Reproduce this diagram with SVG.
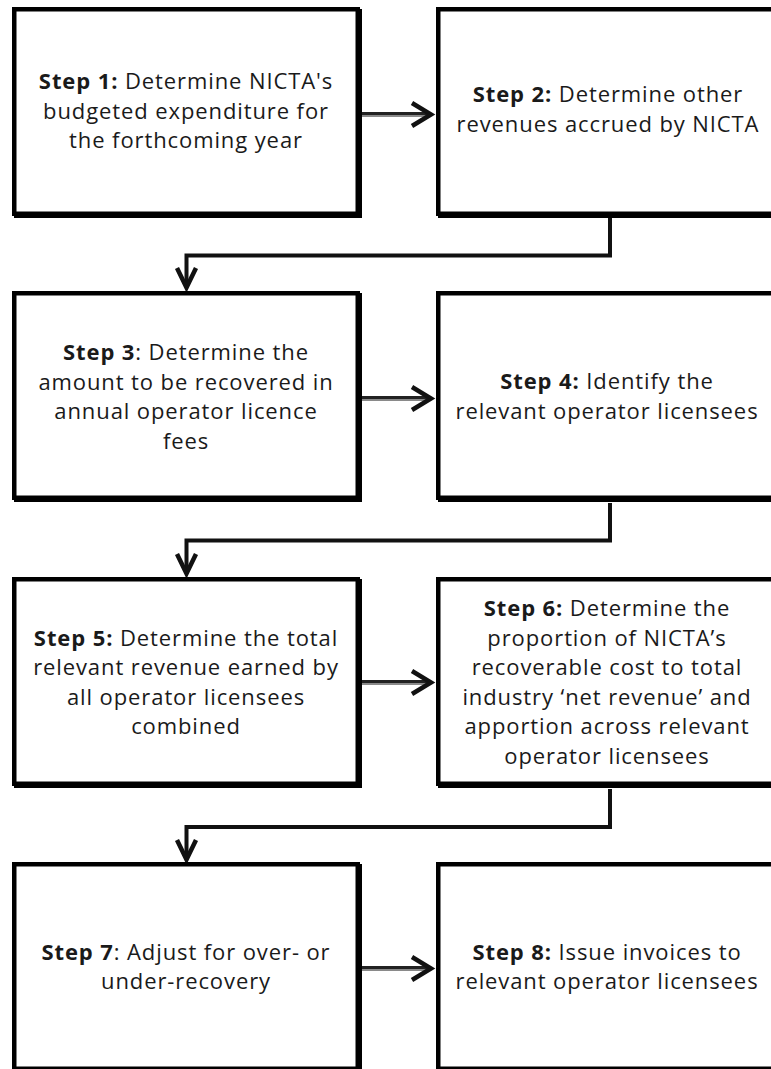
<svg xmlns="http://www.w3.org/2000/svg" width="771" height="1069" viewBox="0 0 771 1069">
<style>
.bg{fill:#fff}
.sh{fill:none;stroke:#000;stroke-width:4.5}
.bx{fill:#fff;stroke:#000;stroke-width:4.5}
.t{font-family:"Open Sans","Liberation Sans",sans-serif;font-size:22px;letter-spacing:0.9px;fill:#1a1a1a;text-anchor:middle}
.b{font-weight:bold}
.ln{fill:none;stroke:#111;stroke-width:4}
.ad{fill:none;stroke:#222;stroke-width:3}
.ag{fill:none;stroke:#8a8a8a;stroke-width:2}
.ah{fill:none;stroke:#111;stroke-width:4.5;stroke-linejoin:miter;stroke-linecap:butt}
</style>
<rect class="bg" x="0" y="0" width="771" height="1069"/>

<g id="connectors">
  <line class="ad" x1="362" y1="113.5" x2="430" y2="113.5"/>
  <line class="ag" x1="362" y1="116" x2="428" y2="116"/>
  <polyline class="ah" points="412,103 431,114.5 412,126"/>

  <line class="ad" x1="362" y1="397.5" x2="430" y2="397.5"/>
  <line class="ag" x1="362" y1="400" x2="428" y2="400"/>
  <polyline class="ah" points="412,387 431,398.5 412,410"/>

  <line class="ad" x1="362" y1="681.5" x2="430" y2="681.5"/>
  <line class="ag" x1="362" y1="684" x2="428" y2="684"/>
  <polyline class="ah" points="412,671 431,682.5 412,694"/>

  <line class="ad" x1="362" y1="967.5" x2="430" y2="967.5"/>
  <line class="ag" x1="362" y1="970" x2="428" y2="970"/>
  <polyline class="ah" points="412,957 431,968.5 412,980"/>

  <polyline class="ln" points="610,218 610,255.5 186.5,255.5 186.5,287"/>
  <polyline class="ah" points="177,268 186.5,287.5 196,268"/>

  <polyline class="ln" points="610,503 610,540.5 186.5,540.5 186.5,573"/>
  <polyline class="ah" points="177,554 186.5,573.5 196,554"/>

  <polyline class="ln" points="610,789 610,827 186.5,827 186.5,859"/>
  <polyline class="ah" points="177,840 186.5,859.5 196,840"/>
</g>

<g id="step1">
  <rect class="sh" x="16.25" y="11.25" width="343.5" height="204.5"/>
  <rect class="bx" x="14.25" y="9.25" width="343.5" height="204.5"/>
  <text class="t" x="186" y="89"><tspan class="b">Step 1:</tspan> Determine NICTA's</text>
  <text class="t" x="186" y="118.5">budgeted expenditure for</text>
  <text class="t" x="186" y="148">the forthcoming year</text>
</g>

<g id="step2">
  <rect class="sh" x="440.25" y="11.25" width="340" height="204.5"/>
  <rect class="bx" x="438.25" y="9.25" width="340" height="204.5"/>
  <text class="t" x="608" y="102"><tspan class="b">Step 2:</tspan> Determine other</text>
  <text class="t" x="608" y="131.5">revenues accrued by NICTA</text>
</g>

<g id="step3">
  <rect class="sh" x="16.25" y="295.25" width="343.5" height="204.5"/>
  <rect class="bx" x="14.25" y="293.25" width="343.5" height="204.5"/>
  <text class="t" x="186" y="360"><tspan class="b">Step 3</tspan>: Determine the</text>
  <text class="t" x="186" y="389.5">amount to be recovered in</text>
  <text class="t" x="186" y="419">annual operator licence</text>
  <text class="t" x="186" y="448.5">fees</text>
</g>

<g id="step4">
  <rect class="sh" x="440.25" y="295.25" width="340" height="204.5"/>
  <rect class="bx" x="438.25" y="293.25" width="340" height="204.5"/>
  <text class="t" x="607" y="389"><tspan class="b">Step 4:</tspan> Identify the</text>
  <text class="t" x="607" y="418.5">relevant operator licensees</text>
</g>

<g id="step5">
  <rect class="sh" x="16.25" y="581.25" width="343.5" height="204.5"/>
  <rect class="bx" x="14.25" y="579.25" width="343.5" height="204.5"/>
  <text class="t" x="186" y="645.5"><tspan class="b">Step 5:</tspan> Determine the total</text>
  <text class="t" x="186" y="675">relevant revenue earned by</text>
  <text class="t" x="186" y="704.5">all operator licensees</text>
  <text class="t" x="186" y="734">combined</text>
</g>

<g id="step6">
  <rect class="sh" x="440.25" y="581.25" width="340" height="204.5"/>
  <rect class="bx" x="438.25" y="579.25" width="340" height="204.5"/>
  <text class="t" x="607" y="616"><tspan class="b">Step 6:</tspan> Determine the</text>
  <text class="t" x="607" y="645.5">proportion of NICTA’s</text>
  <text class="t" x="607" y="675">recoverable cost to total</text>
  <text class="t" x="607" y="704.5">industry ‘net revenue’ and</text>
  <text class="t" x="607" y="734">apportion across relevant</text>
  <text class="t" x="607" y="763.5">operator licensees</text>
</g>

<g id="step7">
  <rect class="sh" x="16.25" y="866.25" width="343.5" height="204.5"/>
  <rect class="bx" x="14.25" y="864.25" width="343.5" height="204.5"/>
  <text class="t" x="186" y="959.5"><tspan class="b">Step 7</tspan>: Adjust for over- or</text>
  <text class="t" x="186" y="989">under-recovery</text>
</g>

<g id="step8">
  <rect class="sh" x="440.25" y="866.25" width="340" height="204.5"/>
  <rect class="bx" x="438.25" y="864.25" width="340" height="204.5"/>
  <text class="t" x="607" y="959.5"><tspan class="b">Step 8:</tspan> Issue invoices to</text>
  <text class="t" x="607" y="989">relevant operator licensees</text>
</g>
</svg>
